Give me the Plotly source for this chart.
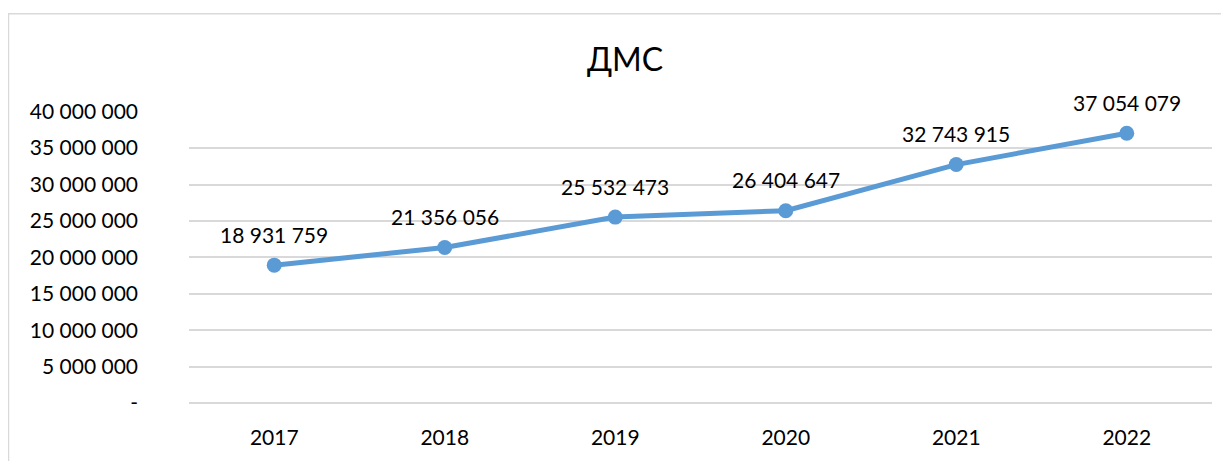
import plotly.graph_objects as go

years = ["2017", "2018", "2019", "2020", "2021", "2022"]
values = [18931759, 21356056, 25532473, 26404647, 32743915, 37054079]
tick_vals = [0, 5000000, 10000000, 15000000, 20000000, 25000000, 30000000, 35000000, 40000000]
tick_text = ["-", "5 000 000", "10 000 000", "15 000 000", "20 000 000",
             "25 000 000", "30 000 000", "35 000 000", "40 000 000"]
title_text = "ДМС"


def fmt(v):
    return f"{v:,}".replace(",", " ")


FONT = "Lato"
BLUE = "#5B9BD5"
GRID = "#D9D9D9"

# the page body has an 8px margin, so the figure is 8px smaller than the window
OFF = 8
W, H = 1229 - OFF, 461 - OFF
L, R, T, B = 181, 17, 103, 56
pw = W - L - R
ph = H - T - B

fig = go.Figure()
fig.add_trace(go.Scatter(
    x=years, y=values, mode="lines+markers",
    line=dict(color=BLUE, width=5),
    marker=dict(color=BLUE, size=15),
    hoverinfo="skip", showlegend=False,
))

for i, v in enumerate(values):
    fig.add_annotation(x=i, y=v, xref="x", yref="y", text=fmt(v), showarrow=False,
                       yshift=31, font=dict(family=FONT, size=21, color="#000000"))


def px_x(p):
    return (p - OFF - L) / pw


def px_y(p):
    return (H - B - (p - OFF)) / ph


fig.add_shape(type="rect", xref="paper", yref="paper",
              x0=px_x(8.5), x1=px_x(1240), y0=px_y(480), y1=px_y(13),
              line=dict(color=GRID, width=1.5), fillcolor="rgba(0,0,0,0)", layer="below")

fig.update_layout(
    width=W, height=H,
    margin=dict(l=L, r=R, t=T, b=B),
    paper_bgcolor="white", plot_bgcolor="white",
    font=dict(family=FONT, size=21, color="#000000"),
    title=dict(text=title_text, x=(625 - OFF) / W, xanchor="center",
               y=1 - (60 - OFF) / H, yanchor="middle", xref="container", yref="container",
               font=dict(family=FONT, size=32, color="#000000")),
    xaxis=dict(type="category", showgrid=False, showline=False, zeroline=False,
               ticks="", ticklabelstandoff=20, tickfont=dict(size=21),
               range=[-0.5, 5.5]),
    yaxis=dict(range=[0, 40100000], tickvals=tick_vals, ticktext=tick_text,
               showgrid=True, gridcolor=GRID, gridwidth=1.5,
               zeroline=True, zerolinecolor=GRID, zerolinewidth=1.5,
               showline=False, ticks="", ticklabelstandoff=50,
               tickfont=dict(size=21)),
)

fig.write_html("out.html")
